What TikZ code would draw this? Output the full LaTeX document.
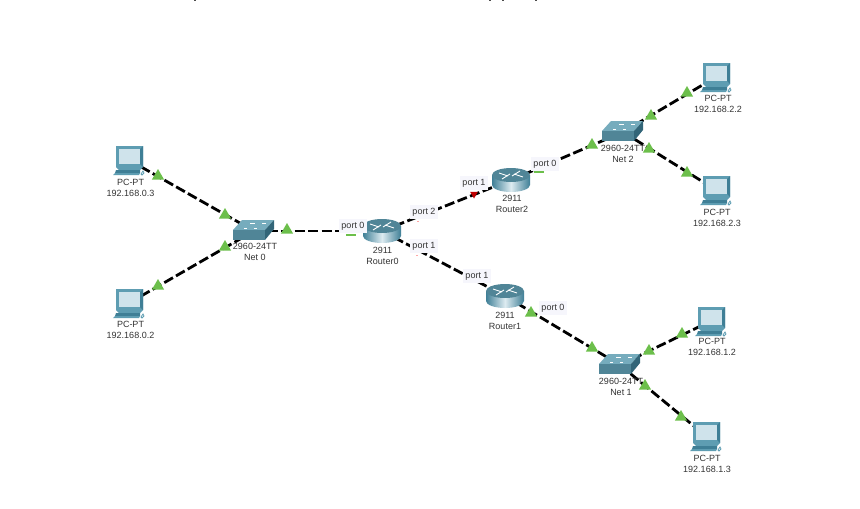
\documentclass[tikz,border=0pt]{standalone}
\usepackage{fontspec}
\setmainfont{Liberation Sans}
\usetikzlibrary{shapes.geometric}
\definecolor{tealdark}{HTML}{3F7F96}
\definecolor{tealmid}{HTML}{5E9DB2}
\definecolor{teallight}{HTML}{CFE3EB}
\definecolor{tagfill}{HTML}{F6F6FC}
\definecolor{linkgreen}{HTML}{6CBF4B}
\tikzset{
  devspot/.style={inner sep=0pt,minimum size=0pt},
  devlabel/.style={font=\fontsize{9}{11}\selectfont,text=black!80,align=center,inner sep=0pt},
  porttag/.style={font=\fontsize{9}{10}\selectfont,text=black!80,fill=tagfill,inner sep=2.5pt},
  linkline/.style={line width=2.8pt,black,dash pattern=on 10pt off 3.5pt},
  uptri/.style={regular polygon,regular polygon sides=3,fill=linkgreen,minimum size=14pt,inner sep=0pt},
  downtri/.style={regular polygon,regular polygon sides=3,shape border rotate=180,fill=red!75!black,minimum size=9pt,inner sep=0pt},
  flatbar/.style={fill=linkgreen,minimum width=10pt,minimum height=1.5pt,inner sep=0pt},
  pinkbar/.style={fill=red!35,minimum width=2pt,minimum height=1pt,inner sep=0pt},
  pcicon/.pic={
    \fill[tealmid] (-13,-14) -- (14,-14) -- (14,7) -- (11,10) -- (-10,10) -- (-13,7) -- cycle;
    \fill[teallight] (-10,-11) rectangle (11,4);
    \fill[tealdark] (11,-11) -- (14,-14) -- (14,7) -- (11,4) -- cycle;
    \fill[tealdark] (-13,10) -- (11,10) -- (11,13) -- (-14,13) -- cycle;
    \fill[tealmid] (-14,13) -- (11,13) -- (10,15) -- (-16,15) -- cycle;
    \draw[tealmid,line width=.8pt] (12,14) -- (14,11) -- (15,13) -- (13,15) -- cycle;
  },
  switchicon/.pic={
    \fill[tealmid!85!white] (-21,-1) -- (-12,-11) -- (20,-11) -- (11,-1) -- cycle;
    \fill[tealmid!85!black] (-21,-1) rectangle (11,9);
    \fill[tealdark!80!black] (11,-1) -- (20,-11) -- (20,-2) -- (11,9) -- cycle;
    \draw[white,line width=.7pt] (-10,-3) -- (-7,-3) (-4,-8) -- (1,-8) (8,-8) -- (12,-8) (0,-3) -- (3,-3);
  },
  routericon/.pic={
    \shade[left color=tealdark,right color=tealdark,middle color=teallight!70!white]
      (-19,-5) -- (-19,5) arc[start angle=180,end angle=0,x radius=19,y radius=7]
      -- (19,-5) -- cycle;
    \fill[tealmid!85!black] (0,-5) ellipse[x radius=19,y radius=7];
    \draw[white,line width=.9pt] (-12,-7) -- (-3,-4) (12,-3) -- (3,-6) (-9,-1) -- (-1,-6) (9,-9) -- (1,-4);
  },
}
\begin{document}
\begin{tikzpicture}[x=1pt,y=-1pt]
  \useasboundingbox (0,0) rectangle (860,509);
  % devices
  \node[devspot] (pc03) at (129,160) {};
  \node[devspot] (pc02) at (129,303) {};
  \node[devspot] (pc22) at (716,77) {};
  \node[devspot] (pc23) at (716,190) {};
  \node[devspot] (pc12) at (711,321) {};
  \node[devspot] (pc13) at (706,436) {};
  \node[devspot] (sw0) at (254,231) {};
  \node[devspot] (sw1) at (620,365) {};
  \node[devspot] (sw2) at (623,132) {};
  \node[devspot] (r0) at (382,231) {};
  \node[devspot] (r1) at (505,296) {};
  \node[devspot] (r2) at (511,180) {};
  % links
  \begin{scope}[linkline]
    \draw (pc03) to (sw0);
    \draw (pc02) to (sw0);
    \draw (sw0) to (r0);
    \draw (r0) to (r2);
    \draw (r0) to (r1);
    \draw (r2) to (sw2);
    \draw (r1) to (sw1);
    \draw (sw2) to (pc22);
    \draw (sw2) to (pc23);
    \draw (sw1) to (pc12);
    \draw (sw1) to (pc13);
  \end{scope}
  % icons
  \foreach \n in {pc03,pc02,pc22,pc23,pc12,pc13}
    \pic at (\n) {pcicon};
  \foreach \n in {sw0,sw1,sw2}
    \pic at (\n) {switchicon};
  \foreach \n in {r0,r1,r2}
    \pic at (\n) {routericon};
  % link lights
  \foreach \x/\y [count=\i] in {158/176,225/215,225/247,158/286,287/230,
      687/93,651/116,592/145,649/149,687/173,
      682/334,649/351,592/348,645/386,681/417,531/313}
    \node[uptri] (tri\i) at (\x,\y) {};
  \node[downtri] (redtri) at (474,194) {};
  \node[flatbar] (bar0) at (351,235) {};
  \node[flatbar] (bar2) at (539,172) {};
  \node[pinkbar] (pink2) at (418,221) {};
  \node[pinkbar] (pink1) at (417,255) {};
  % port tags
  \node[porttag] (r0p0) at (353,226) {port 0};
  \node[porttag] (r0p2) at (424,212) {port 2};
  \node[porttag] (r0p1) at (424,246) {port 1};
  \node[porttag] (r2p1) at (474,183) {port 1};
  \node[porttag] (r2p0) at (545,164) {port 0};
  \node[porttag] (r1p1) at (477,276) {port 1};
  \node[porttag] (r1p0) at (553,308) {port 0};
  % device labels
  \node[devlabel] (pc03txt) at (130.5,187.5) {PC-PT\\192.168.0.3};
  \node[devlabel] (pc02txt) at (130.5,329.5) {PC-PT\\192.168.0.2};
  \node[devlabel] (sw0txt) at (255,251.5) {2960-24TT\\Net 0};
  \node[devlabel] (r0txt) at (382.5,255.5) {2911\\Router0};
  \node[devlabel] (r2txt) at (512,203.5) {2911\\Router2};
  \node[devlabel] (r1txt) at (505,320.5) {2911\\Router1};
  \node[devlabel] (sw2txt) at (623,153.5) {2960-24TT\\Net 2};
  \node[devlabel] (sw1txt) at (621,386.5) {2960-24TT\\Net 1};
  \node[devlabel] (pc22txt) at (718,103.5) {PC-PT\\192.168.2.2};
  \node[devlabel] (pc23txt) at (717,217.5) {PC-PT\\192.168.2.3};
  \node[devlabel] (pc12txt) at (712,347) {PC-PT\\192.168.1.2};
  \node[devlabel] (pc13txt) at (707,463.5) {PC-PT\\192.168.1.3};
  % cut-off marks on the top edge
  \foreach \x in {195,490,503,536}
    \fill[black!70] (\x-1,0) rectangle (\x+1,1);
\end{tikzpicture}
\end{document}
